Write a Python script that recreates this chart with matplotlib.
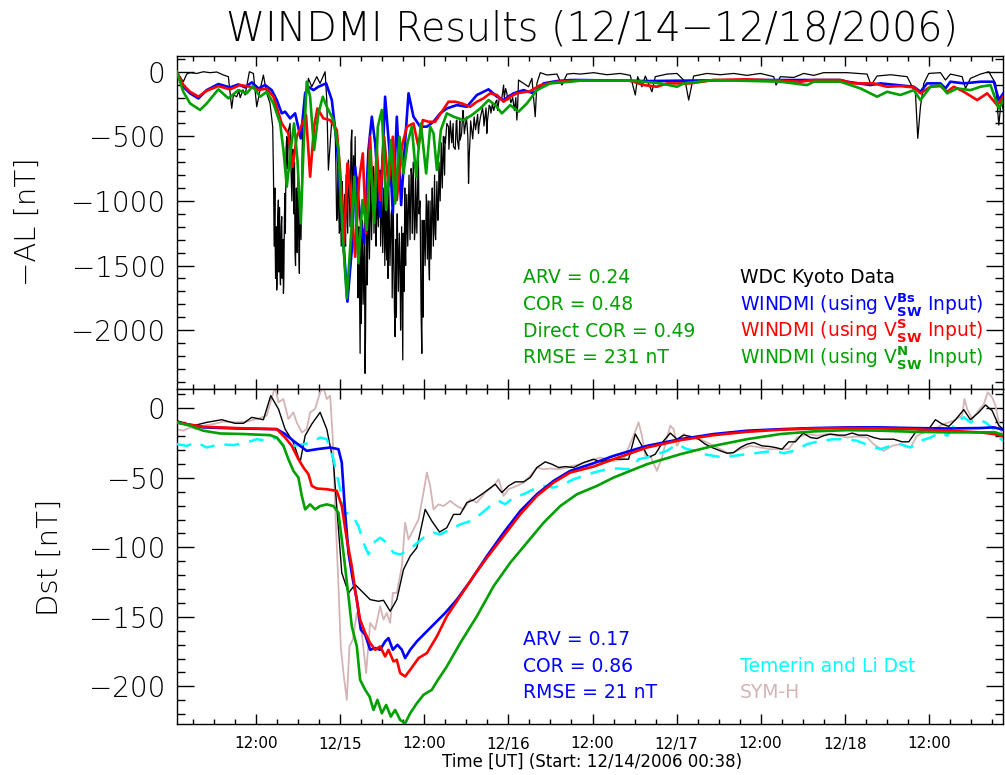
import matplotlib
matplotlib.use("Agg")
import matplotlib.pyplot as plt
from matplotlib.ticker import MultipleLocator, FixedLocator, FixedFormatter

plt.rcParams['font.family'] = ['DejaVu Sans']
plt.rcParams['mathtext.fontset'] = 'dejavusans'

# ---------------- data (hours since 12/14/2006 00:00, nT) ----------------
x_start = 0.633   # 12/14 00:38
x_end = 118.65

xtick_hours = [12, 24, 36, 48, 60, 72, 84, 96, 108]
xtick_labels = ['12:00', '12/15', '12:00', '12/16', '12:00', '12/17', '12:00', '12/18', '12:00']

al_kyoto = [
    (0.63, 0), (1.11, -38), (1.58, -77), (2.06, -18), (2.54, -7), (3.49, -13), (4.44, 0),
    (5.39, -7), (6.35, -2), (7.30, -25), (8.01, -38), (8.49, -283), (8.73, -180), (9.20, -193),
    (9.92, -167), (10.4, -180), (10.8, -60), (11.01, 0), (11.58, -13), (12.06, -271), (12.53, -142),
    (13.01, -26), (13.49, -167), (13.96, -245), (14.34, -425), (14.68, -1251), (14.91, -1690),
    (15.15, -993), (15.39, -1561), (15.63, -1122), (15.87, -1715), (16.10, -941), (16.34, -503),
    (16.82, -400), (17.30, -787), (17.53, -1406), (17.77, -1148), (18.15, -1561), (18.49, -890),
    (18.96, -271), (19.44, -51), (19.91, -116), (20.63, -38), (21.10, -90), (21.82, 0),
    (22.06, -219), (22.29, -761), (22.77, -374), (23.25, -425), (23.58, -1122), (23.96, -1200),
    (24.20, -890), (24.68, -1303), (25.15, -683), (25.63, -451), (26.11, -503), (26.34, -812),
    (26.58, -1457), (26.82, -2180), (27.06, -1354), (27.53, -2335), (27.77, -1200), (28.25, -993),
    (28.72, -735), (29.20, -1096), (29.68, -761), (30.15, -1070), (30.63, -1457), (30.87, -812),
    (31.34, -1070), (31.82, -2051), (32.06, -1251), (32.53, -1561), (32.91, -2231), (33.25, -1354),
    (33.72, -1045), (34.20, -812), (34.68, -1200), (35.15, -683), (35.63, -2180), (35.87, -1251),
    (36.34, -1045), (36.72, -1612), (37.06, -1019), (37.53, -1251), (38.01, -1045), (38.49, -761),
    (38.96, -503), (39.44, -425), (40.15, -580), (40.63, -374), (41.10, -529), (41.58, -348),
    (42.30, -864), (42.53, -503), (43.01, -425), (43.72, -477), (44.44, -348), (44.91, -477),
    (45.39, -271), (46.34, -219), (47.30, -103), (47.77, -167), (48.49, -219), (49.20, -374),
    (49.44, -64), (50.16, -90), (50.87, -116), (51.35, -51), (51.82, -348), (52.06, -90),
    (52.54, -7), (53.49, -25), (54.92, -18), (55.63, -103), (56.35, -18), (57.30, -13),
    (58.25, -18), (60.15, -7), (62.06, -23), (63.96, -13), (65.39, -28), (66.11, -180),
    (66.44, -38), (67.06, -116), (67.54, -33), (68.49, -155), (68.96, -38), (70.63, -18),
    (72.06, -13), (73.25, -77), (73.73, -219), (74.44, -33), (76.35, -13), (78.25, -23),
    (80.15, -13), (82.06, -28), (83.96, -13), (85.87, -38), (86.2, -103), (86.82, -38),
    (88.73, -44), (90.15, -13), (91.58, -28), (93.01, -7), (96.35, -7), (99.2, -18),
    (99.77, -103), (100.63, -33), (102.54, -23), (104.92, -38), (106.11, -167), (106.44, -516),
    (106.82, -271), (107.3, -90), (108.01, -13), (109.68, -7), (110.39, -64), (111.1, -18),
    (112.77, -38), (113.25, -129), (113.96, -51), (115.39, -18), (116.58, 0), (117.54, -90),
    (118.01, -413), (118.35, -219), (118.65, -296),
]

# extra readings of the dense 1-minute fluctuations inside the storm interval
al_kyoto_dense = [
    (9.5, -150), (9.7, -200), (10.1, -140),
    (14.45, -800), (14.55, -1350), (14.65, -900), (14.75, -1600), (14.85, -1200), (14.95, -1650),
    (15.05, -1150), (15.2, -1550), (15.32, -1050), (15.45, -1650), (15.55, -1200), (15.7, -1600),
    (15.8, -1300), (15.92, -1650), (16.02, -1100), (16.15, -1250), (16.25, -600), (16.45, -750),
    (16.6, -450), (16.9, -650), (17.08, -1000), (17.22, -600), (17.35, -1100), (17.45, -700),
    (17.6, -1500), (17.72, -900), (17.85, -1400), (17.95, -800), (18.1, -1450), (18.22, -950),
    (18.38, -1300), (18.55, -600), (18.7, -350),
    (23.35, -700), (23.47, -1150), (23.65, -750), (23.85, -1250), (24.0, -900), (24.12, -1350),
    (24.28, -850), (24.42, -1400), (24.58, -950), (24.75, -1350), (24.82, -800), (25.05, -1250),
    (25.22, -750), (25.38, -1200), (25.52, -550), (25.7, -1100), (25.88, -650), (26.02, -1000),
    (26.15, -700), (26.27, -1300), (26.4, -900), (26.52, -1750), (26.65, -1200), (26.77, -1850),
    (26.9, -1300), (27.0, -1950), (27.12, -1150), (27.25, -1800), (27.42, -1250), (27.6, -2000),
    (27.72, -1000), (27.85, -1650), (27.97, -950), (28.15, -1450), (28.3, -800), (28.45, -1300),
    (28.62, -750), (28.8, -1250), (28.95, -800), (29.1, -1350), (29.25, -850), (29.42, -1200),
    (29.58, -800), (29.75, -1350), (29.9, -850), (30.05, -1400), (30.2, -900), (30.35, -1500),
    (30.45, -850), (30.55, -1350), (30.7, -950), (30.8, -1600), (30.95, -1000), (31.08, -1500),
    (31.25, -1100), (31.4, -1750), (31.55, -1050), (31.72, -1850), (31.9, -1300), (32.0, -1900),
    (32.12, -1100), (32.28, -1700), (32.42, -1250), (32.6, -2000), (32.75, -1200), (32.85, -1850),
    (32.98, -1250), (33.1, -1700), (33.2, -900), (33.32, -1500), (33.48, -950), (33.62, -1350),
    (33.8, -800), (33.95, -1300), (34.1, -750), (34.28, -1250), (34.4, -700), (34.58, -1300),
    (34.75, -800), (34.92, -1250), (35.08, -750), (35.22, -1100), (35.38, -1000), (35.52, -1850),
    (35.7, -1150), (35.8, -1900), (35.95, -1150), (36.1, -1500), (36.28, -950), (36.42, -1450),
    (36.55, -1000), (36.65, -1500), (36.8, -1000), (36.95, -1450), (37.12, -900), (37.28, -1350),
    (37.45, -800), (37.6, -1300), (37.78, -850), (37.92, -1150), (38.08, -700), (38.25, -1000),
    (38.4, -550), (38.55, -900), (38.7, -500), (38.88, -800),
    (39.0, -550), (39.2, -400), (39.5, -600), (39.7, -380), (39.9, -550), (40.1, -400),
    (40.4, -600), (40.55, -380), (40.7, -520), (40.9, -600), (41.05, -380), (41.3, -480),
    (41.5, -300), (41.7, -480), (42.0, -350), (42.2, -500), (42.4, -650), (42.6, -380),
    (42.9, -520), (43.1, -350), (43.3, -450), (43.6, -330), (43.8, -420), (44.0, -350),
    (44.3, -280), (44.5, -420), (44.8, -280), (45.0, -380), (45.25, -260), (45.5, -320),
    (45.7, -250), (45.9, -300), (46.2, -230), (46.45, -300), (46.7, -200), (47.0, -220),
    (47.2, -150), (47.4, -200), (47.6, -130), (47.9, -220), (48.1, -180), (48.35, -240),
    (48.6, -200), (48.85, -300), (49.05, -200), (49.3, -280),
]

al_bs = [
    (0.63, 0), (1.58, -116), (2.54, -167), (3.73, -206), (4.92, -142), (6.58, -95), (8.25, -121),
    (9.44, -98), (10.39, -121), (11.35, -82), (12.3, -129), (13.25, -103), (14.2, -142),
    (14.92, -219), (15.63, -322), (16.11, -309), (16.82, -361), (17.54, -322), (18.35, -516),
    (18.97, -167), (19.44, -116), (20.16, -142), (20.87, -116), (21.97, -90), (22.78, -219),
    (23.49, -554), (24.2, -1122), (25.01, -1780), (25.63, -1380), (26.11, -735), (26.82, -1122),
    (27.39, -1328), (28.01, -606), (28.49, -348), (28.97, -554), (29.68, -1122), (30.39, -193),
    (31.11, -683), (31.49, -1096), (32.06, -348), (32.68, -1032), (33.16, -606), (33.73, -167),
    (34.44, -348), (35.39, -425), (36.35, -425), (37.3, -387), (38.25, -322), (39.2, -284),
    (40.63, -258), (42.06, -271), (43.49, -180), (45.16, -136), (46.35, -193), (47.3, -219),
    (48.73, -167), (50.16, -142), (51.59, -167), (53.01, -90), (54.92, -72), (56.82, -64),
    (58.25, -64), (67.77, -72), (72.54, -69), (82.06, -64), (95.39, -64), (96.35, -77),
    (99.68, -103), (101.11, -90), (103.49, -103), (105.87, -116), (106.82, -155), (107.77, -90),
    (109.68, -90), (110.39, -129), (111.1, -77), (113.01, -90), (115.39, -77), (117.3, -77),
    (118.01, -219), (118.65, -167),
]

al_s = [
    (0.63, 0), (1.58, -103), (2.54, -155), (3.73, -193), (4.92, -147), (6.58, -111), (8.25, -136),
    (9.68, -103), (11.1, -116), (12.3, -142), (13.49, -129), (14.44, -193), (15.63, -400),
    (16.58, -477), (17.2, -735), (17.77, -503), (18.49, -412), (19.1, -335), (19.68, -812),
    (20.25, -425), (20.72, -284), (21.58, -361), (22.53, -374), (23.49, -451), (23.96, -761),
    (24.53, -1328), (25.01, -709), (25.53, -993), (26.11, -1432), (26.68, -838), (27.2, -632),
    (27.68, -1251), (28.25, -503), (28.72, -1122), (29.2, -600), (29.68, -993), (30.25, -503),
    (30.87, -890), (31.49, -503), (32.06, -993), (32.77, -580), (33.49, -425), (34.44, -400),
    (35.15, -580), (35.77, -374), (36.58, -387), (37.53, -387), (38.49, -309), (39.44, -232),
    (40.39, -232), (41.34, -245), (42.53, -271), (43.49, -232), (44.44, -206), (45.39, -167),
    (46.34, -180), (47.3, -232), (48.25, -193), (49.2, -167), (51.1, -150), (52.5, -105),
    (54.9, -78), (57.0, -70), (58.25, -69), (65.39, -69), (67.3, -103), (69.2, -116),
    (70.63, -90), (73.96, -90), (77.3, -64), (82.06, -59), (86.82, -69), (89.68, -77),
    (91.58, -64), (95.39, -64), (97.3, -90), (100.15, -90), (102.06, -116), (103.96, -111),
    (105.87, -121), (106.82, -167), (108.25, -116), (109.68, -111), (110.63, -155), (111.58, -116),
    (113.01, -155), (114.92, -219), (116.35, -167), (117.77, -258), (118.65, -193),
]

al_n = [
    (0.63, 0), (1.58, -155), (2.54, -245), (3.97, -296), (4.92, -245), (6.58, -136), (8.01, -206),
    (9.44, -142), (10.63, -167), (11.49, -111), (12.54, -193), (13.49, -155), (14.44, -245),
    (15.4, -400), (15.87, -606), (16.35, -890), (16.92, -606), (17.39, -400), (17.87, -683),
    (18.35, -1174), (18.73, -606), (19.2, -77), (19.68, -193), (20.25, -606), (20.87, -322),
    (21.49, -193), (22.06, -271), (23.01, -374), (23.73, -606), (24.35, -1277), (24.92, -1754),
    (25.54, -1251), (26.01, -812), (26.58, -1483), (27.16, -993), (27.78, -1225), (28.25, -606),
    (28.82, -1174), (29.35, -425), (29.92, -296), (30.54, -1070), (31.2, -529), (31.82, -1019),
    (32.44, -503), (33.01, -787), (33.58, -554), (34.2, -425), (34.82, -812), (35.49, -400),
    (36.25, -787), (36.82, -425), (37.3, -477), (37.78, -761), (38.35, -451), (39.2, -322),
    (40.16, -348), (41.58, -374), (42.78, -335), (43.97, -284), (45.16, -219), (46.11, -258),
    (47.06, -322), (48.25, -258), (49.44, -309), (50.63, -245), (52.06, -142), (53.97, -90),
    (56.82, -77), (58.25, -69), (65.39, -69), (67.3, -77), (69.68, -90), (72.06, -116),
    (73.01, -90), (77.3, -64), (86.82, -77), (90.63, -103), (91.58, -77), (95.39, -77),
    (98.25, -129), (100.63, -193), (102.06, -155), (103.96, -180), (105.87, -142), (106.82, -219),
    (108.25, -116), (109.68, -103), (110.63, -167), (112.06, -129), (113.96, -142), (115.39, -116),
    (116.82, -103), (118.01, -284), (118.65, -219),
]

dst_kyoto = [
    (0.63, -8.9), (3.01, -12.5), (4.92, -10.1), (7.06, -8.2), (8.97, -10.8), (10.16, -10.8),
    (11.35, -6.5), (13.01, -8.2), (14.06, 9.1), (15.16, -0.5), (16.11, -15.0), (17.3, -24.6),
    (18.25, -39.0), (18.97, -19.7), (19.92, -11.3), (21.11, -2.9), (22.06, -15.0), (23.01, -39.0),
    (24.2, -118.3), (25.16, -132.8), (26.11, -126.8), (27.06, -131.6), (28.25, -137.6),
    (29.44, -138.8), (30.16, -138.1), (31.11, -146.0), (32.06, -137.6), (33.01, -116.0),
    (33.97, -106.3), (34.92, -100.3), (36.11, -72.7), (37.06, -81.1), (38.16, -89.0),
    (39.2, -85.9), (40.16, -76.3), (41.11, -76.3), (42.06, -67.8), (43.01, -65.9), (44.2, -61.8),
    (45.16, -58.2), (46.11, -54.6), (47.06, -60.6), (48.01, -55.8), (48.97, -52.9), (50.16, -52.9),
    (51.11, -49.8), (52.06, -42.6), (53.25, -38.5), (54.2, -40.2), (55.16, -42.6), (56.11, -41.9),
    (57.3, -42.6), (58.73, -39.0), (60.15, -36.6), (61.11, -38.5), (63.01, -36.6), (65.15, -36.6),
    (66.11, -18.5), (67.06, -27.0), (68.01, -35.4), (68.96, -33.0), (70.15, -23.4), (71.11, -17.8),
    (72.06, -22.2), (73.01, -19.3), (73.96, -20.2), (75.15, -22.2), (76.11, -25.8), (77.06, -28.2),
    (78.25, -30.6), (79.2, -32.3), (80.15, -31.8), (81.11, -28.2), (82.06, -25.8), (83.01, -24.6),
    (84.2, -27.0), (85.15, -27.4), (86.11, -28.2), (87.06, -29.4), (88.01, -24.1), (88.96, -24.1),
    (90.06, -17.8), (91.11, -21.0), (92.06, -21.7), (93.01, -19.7), (93.96, -18.5), (95.15, -19.3),
    (96.11, -19.3), (97.06, -17.8), (98.01, -19.3), (99.2, -19.3), (100.15, -21.0), (101.11, -22.2),
    (102.06, -22.2), (103.01, -22.2), (104.2, -24.1), (105.15, -24.1), (106.11, -17.3),
    (107.06, -15.4), (108.01, -14.9), (108.96, -8.2), (109.92, -11.3), (110.87, -13.0),
    (111.82, -8.2), (113.01, -1.0), (113.96, -8.2), (115.15, -2.9), (116.11, 2.4), (117.06, -1.7),
    (118.01, -12.5), (118.65, -14.9),
]

symh = [
    (0.63, -15.0), (1.58, -16.1), (2.54, -13.7), (3.49, -15.0), (4.44, -12.5), (5.87, -11.3),
    (7.3, -9.6), (9.2, -10.1), (10.63, -9.6), (12.06, -7.7), (13.49, -5.3), (14.2, 7.9),
    (14.68, 15.1), (15.16, 4.3), (15.87, 6.7), (16.58, -7.7), (17.3, -2.9), (17.77, -10.1),
    (18.49, -17.3), (19.2, -15.0), (19.68, -2.9), (20.39, -0.5), (21.11, 11.5), (21.58, 15.1),
    (22.06, 6.7), (22.54, 9.1), (22.92, -22.2), (23.25, -70.3), (23.73, -128.0), (24.06, -171.3),
    (24.44, -190.5), (24.92, -209.7), (25.3, -171.3), (25.78, -166.5), (26.35, -147.2),
    (27.06, -161.6), (27.68, -190.5), (28.25, -154.4), (28.97, -159.2), (29.68, -142.4),
    (30.16, -152.0), (30.63, -147.2), (31.11, -154.4), (31.49, -132.8), (32.06, -132.8),
    (32.78, -113.5), (33.25, -82.3), (33.73, -94.3), (34.44, -87.1), (35.16, -79.9),
    (35.87, -60.6), (36.35, -46.2), (36.82, -55.8), (37.3, -72.7), (38.01, -69.1), (38.73, -70.3),
    (39.68, -66.6), (40.63, -70.3), (41.58, -72.7), (42.54, -65.4), (43.49, -67.8), (44.68, -60.6),
    (45.87, -55.8), (46.59, -51.0), (47.3, -63.0), (48.01, -58.2), (49.2, -55.8), (50.16, -53.4),
    (51.11, -48.6), (52.06, -42.6), (53.01, -43.8), (53.97, -43.3), (54.92, -43.8), (55.87, -43.3),
    (56.82, -41.9), (58.25, -40.2), (59.68, -37.8), (61.11, -35.4), (63.01, -37.8), (64.44, -36.6),
    (65.87, -19.7), (66.58, -10.1), (67.06, -19.7), (67.54, -34.2), (68.25, -34.2), (69.2, -45.0),
    (69.92, -35.4), (70.63, -21.0), (71.11, -12.5), (71.58, -15.0), (72.06, -27.0), (73.01, -18.5),
    (73.73, -21.0), (74.68, -21.0), (75.87, -23.4), (77.3, -27.0), (78.73, -30.6), (79.68, -33.0),
    (81.11, -29.4), (82.54, -27.0), (83.96, -28.2), (85.39, -29.4), (86.82, -29.4), (88.01, -29.4),
    (89.2, -21.0), (90.63, -18.5), (92.06, -19.7), (93.49, -18.5), (94.92, -19.7), (96.35, -21.0),
    (97.77, -20.2), (99.2, -21.0), (100.15, -25.8), (101.58, -30.6), (102.77, -27.0),
    (103.96, -25.8), (105.39, -28.2), (106.35, -19.7), (107.3, -17.3), (108.73, -15.0),
    (110.15, -11.3), (111.58, -8.9), (112.77, -5.3), (113.1, 6.7), (113.49, -0.5), (114.2, -7.7),
    (114.92, -2.9), (115.87, 3.1), (116.44, 11.5), (117.06, 7.9), (117.54, 1.9), (118.01, -10.1),
    (118.65, -22.2),
]

dst_temerin_li = [
    (0.63, -25.8), (2.06, -27.0), (3.49, -24.6), (4.92, -28.2), (6.82, -25.8), (8.73, -26.5),
    (10.63, -24.6), (12.06, -22.2), (13.49, -23.4), (14.92, -21.0), (16.11, -28.2), (17.3, -27.0),
    (18.73, -25.8), (19.92, -24.6), (21.11, -21.0), (22.06, -22.2), (23.01, -36.6), (23.97, -58.2),
    (24.68, -75.1), (25.63, -76.3), (26.58, -84.7), (27.3, -96.7), (28.01, -105.1), (28.73, -96.7),
    (29.68, -93.1), (30.63, -96.7), (31.58, -103.9), (32.54, -105.1), (33.49, -102.7),
    (34.44, -99.1), (35.87, -93.1), (37.3, -89.5), (38.25, -90.7), (39.68, -87.1), (41.11, -83.5),
    (42.54, -81.1), (43.97, -76.3), (45.39, -70.3), (46.59, -66.6), (47.54, -69.0), (48.73, -64.2),
    (50.16, -61.8), (51.59, -58.2), (53.01, -55.8), (54.44, -57.0), (55.87, -54.6), (57.3, -51.0),
    (58.73, -48.6), (60.15, -46.2), (62.06, -43.8), (63.49, -43.3), (65.39, -43.8), (66.58, -36.6),
    (67.77, -35.4), (69.2, -33.0), (70.63, -30.6), (72.06, -25.8), (73.49, -29.4), (74.92, -30.6),
    (75.87, -33.0), (77.3, -34.2), (78.73, -35.4), (80.15, -34.2), (82.06, -33.0), (83.96, -31.8),
    (85.87, -30.6), (87.3, -32.3), (88.73, -30.6), (90.63, -25.8), (92.54, -23.4), (94.44, -22.2),
    (96.35, -22.2), (97.77, -23.4), (99.68, -27.0), (101.11, -29.4), (102.54, -27.0),
    (103.96, -25.8), (105.39, -28.2), (106.82, -23.4), (108.25, -21.0), (109.68, -17.3),
    (110.63, -19.7), (112.06, -8.9), (113.01, -6.5), (113.96, -10.1), (114.92, -7.7),
    (116.11, -10.1), (117.3, -15.0), (118.01, -21.0), (118.65, -23.4),
]

dst_bs = [
    (0.63, -10.1), (4.44, -13.7), (9.2, -14.5), (14.92, -15.0), (16.11, -18.5), (17.3, -23.4),
    (18.25, -27.0), (19.2, -30.6), (20.63, -29.4), (22.54, -28.2), (23.73, -29.4), (24.2, -39.0),
    (24.68, -75.1), (25.16, -104.0), (25.78, -123.2), (26.35, -137.6), (26.92, -159.2),
    (27.54, -162.8), (28.25, -173.7), (28.97, -172.5), (29.68, -173.7), (30.39, -167.7),
    (30.87, -165.3), (31.49, -173.7), (32.16, -170.1), (32.78, -173.7), (33.25, -179.7),
    (33.97, -173.7), (34.92, -167.7), (36.35, -160.4), (37.78, -153.2), (38.97, -147.2),
    (40.63, -137.6), (42.54, -124.4), (44.92, -106.3), (47.3, -89.5), (49.68, -73.9),
    (52.06, -61.8), (54.44, -52.2), (56.82, -45.0), (60.15, -39.5), (63.01, -34.2), (67.77, -27.0),
    (72.54, -22.2), (77.3, -18.5), (82.06, -16.1), (86.82, -15.0), (91.58, -14.2), (96.35, -13.7),
    (101.11, -13.7), (105.87, -14.2), (110.63, -14.5), (115.39, -14.2), (117.3, -13.7),
    (118.65, -15.4),
]

dst_s = [
    (0.63, -10.1), (4.44, -13.3), (9.2, -14.2), (14.92, -15.0), (16.11, -21.0), (17.06, -27.0),
    (18.01, -36.6), (18.73, -42.6), (19.44, -47.4), (19.92, -55.8), (20.63, -57.7), (22.06, -58.2),
    (23.49, -59.4), (24.2, -70.3), (24.92, -94.3), (25.63, -113.5), (26.25, -135.2), (26.82, -152.0),
    (27.54, -161.6), (28.25, -168.9), (28.97, -173.7), (29.68, -171.3), (30.39, -178.5),
    (30.87, -173.7), (31.58, -182.1), (32.06, -180.9), (32.54, -190.5), (33.25, -192.9),
    (33.97, -188.1), (35.16, -179.7), (36.35, -176.1), (37.78, -164.1), (39.2, -149.6),
    (41.11, -135.2), (43.01, -120.8), (44.92, -107.5), (47.3, -91.9), (49.68, -76.3), (52.06, -63.0),
    (54.44, -53.4), (56.82, -46.2), (60.15, -41.9), (63.01, -36.6), (67.77, -28.2), (72.54, -22.9),
    (77.3, -19.3), (82.06, -16.9), (86.82, -15.4), (91.58, -14.5), (96.35, -14.2), (101.11, -14.5),
    (105.87, -15.0), (110.63, -16.1), (115.39, -17.3), (117.3, -18.5), (118.65, -20.2),
]

dst_n = [
    (0.63, -10.1), (2.54, -12.5), (4.44, -16.1), (6.82, -18.1), (10.16, -18.5), (13.96, -19.3),
    (14.92, -21.0), (15.87, -27.0), (16.58, -36.6), (17.3, -45.0), (18.01, -49.8), (18.49, -63.0),
    (18.97, -72.7), (19.68, -69.1), (20.39, -72.7), (21.11, -70.3), (22.06, -69.1), (23.01, -70.3),
    (23.73, -75.1), (24.44, -104.0), (25.16, -135.2), (25.63, -156.8), (26.35, -171.3),
    (26.82, -195.3), (27.54, -202.5), (28.16, -207.3), (28.73, -217.0), (29.3, -209.7),
    (29.92, -219.4), (30.54, -213.4), (31.2, -221.8), (31.82, -217.0), (32.54, -224.2),
    (33.25, -226.6), (33.97, -219.4), (34.92, -212.2), (35.87, -206.1), (37.06, -202.5),
    (37.78, -196.5), (39.2, -185.7), (41.11, -168.9), (43.49, -149.6), (45.87, -128.0),
    (48.25, -111.1), (50.63, -96.7), (53.01, -82.3), (55.39, -70.3), (57.78, -61.8), (60.63, -55.8),
    (63.01, -49.8), (65.39, -45.0), (67.77, -40.2), (72.54, -33.0), (77.3, -27.0), (82.06, -22.2),
    (86.82, -18.5), (91.58, -16.6), (96.35, -15.7), (101.11, -16.1), (105.87, -16.9),
    (110.63, -17.3), (115.39, -17.3), (117.54, -17.3), (118.65, -19.3),
]

al_stats = ['ARV = 0.24', 'COR = 0.48', 'Direct COR = 0.49', 'RMSE = 231 nT']
dst_stats = ['ARV = 0.17', 'COR = 0.86', 'RMSE = 21 nT']
al_legend = ['WDC Kyoto Data',
             r'WINDMI (using V$_{\mathbf{SW}}^{\mathbf{Bs}}$ Input)',
             r'WINDMI (using V$_{\mathbf{SW}}^{\mathbf{S}}$ Input)',
             r'WINDMI (using V$_{\mathbf{SW}}^{\mathbf{N}}$ Input)']
dst_legend = ['Temerin and Li Dst', 'SYM-H']

# ---------------- style ----------------
C_BLUE = '#0000ff'
C_RED = '#ff0000'
C_GREEN = '#00a000'
C_CYAN = '#00ffff'
C_SYM = '#d4b4b4'
THIN = 200  # light weight where the font has one

W, H = 1005, 775
fig = plt.figure(figsize=(W / 100, H / 100), dpi=100)

L, R = 176.7, 1003.3
ax1 = fig.add_axes([L / W, 1 - 389 / H, (R - L) / W, (389 - 56) / H])
ax2 = fig.add_axes([L / W, 1 - 724 / H, (R - L) / W, (724 - 389) / H])


def xy(pairs):
    pairs = sorted(pairs)
    return [p[0] for p in pairs], [p[1] for p in pairs]


# top panel
ax1.plot(*xy(al_kyoto + al_kyoto_dense), color='black', lw=0.9, zorder=2)
ax1.plot(*xy(al_bs), color=C_BLUE, lw=1.9, zorder=3)
ax1.plot(*xy(al_s), color=C_RED, lw=1.9, zorder=4)
ax1.plot(*xy(al_n), color=C_GREEN, lw=1.9, zorder=5)
ax1.set_ylim(-2456, 122)

# bottom panel
ax2.plot(*xy(symh), color=C_SYM, lw=1.3, zorder=2)
ax2.plot(*xy(dst_kyoto), color='black', lw=1.0, zorder=3)
ax2.plot(*xy(dst_temerin_li), color=C_CYAN, lw=1.8, ls=(0, (6, 4)), zorder=4)
ax2.plot(*xy(dst_bs), color=C_BLUE, lw=1.9, zorder=5)
ax2.plot(*xy(dst_s), color=C_RED, lw=1.9, zorder=6)
ax2.plot(*xy(dst_n), color=C_GREEN, lw=1.9, zorder=7)
ax2.set_ylim(-227.1, 13.9)

for ax in (ax1, ax2):
    ax.set_xlim(x_start, x_end)
    ax.xaxis.set_major_locator(FixedLocator(xtick_hours))
    ax.xaxis.set_minor_locator(MultipleLocator(3))
    ax.tick_params(which='both', direction='in', top=True, right=True)
    ax.tick_params(axis='y', which='major', length=12, width=1.0)
    ax.tick_params(axis='y', which='minor', length=6, width=1.0)
    ax.tick_params(axis='x', which='major', length=7, width=1.0)
    ax.tick_params(axis='x', which='minor', length=3.5, width=1.0)
    ax.tick_params(axis='y', labelsize=20, pad=8)
    for s in ax.spines.values():
        s.set_linewidth(1.0)

ax1.yaxis.set_major_locator(MultipleLocator(500))
ax1.yaxis.set_minor_locator(MultipleLocator(100))
ax1.tick_params(axis='x', labelbottom=False)

ax2.yaxis.set_major_locator(MultipleLocator(50))
ax2.yaxis.set_minor_locator(MultipleLocator(10))
ax2.xaxis.set_major_formatter(FixedFormatter(xtick_labels))
ax2.tick_params(axis='x', labelsize=11, pad=9)

for ax in (ax1, ax2):
    for lab in ax.get_yticklabels():
        lab.set_fontweight(THIN)

# labels
fig.text(592 / W, 1 - 29 / H, 'WINDMI Results (12/14\u221212/18/2006)', ha='center', va='center',
         fontsize=28.5, fontweight=THIN)
fig.text(28 / W, 1 - 222 / H, '\u2212AL [nT]', rotation=90, ha='center', va='center',
         fontsize=21, fontweight=THIN)
fig.text(50 / W, 1 - 557 / H, 'Dst [nT]', rotation=90, ha='center', va='center',
         fontsize=21, fontweight=THIN)
fig.text(592 / W, 1 - 762 / H, 'Time [UT] (Start: 12/14/2006 00:38)', ha='center', va='center',
         fontsize=12)

FS = 13.5
for i, s in enumerate(al_stats):
    fig.text(522.7 / W, 1 - (283.3 + 26.7 * i) / H, s, color=C_GREEN, fontsize=FS, va='baseline')
for s, c, yb in zip(al_legend, ['black', C_BLUE, C_RED, C_GREEN], [283.3, 310, 336.7, 363.4]):
    fig.text(740 / W, 1 - yb / H, s, color=c, fontsize=FS, va='baseline')

for i, s in enumerate(dst_stats):
    fig.text(522.7 / W, 1 - (645 + 26.5 * i) / H, s, color=C_BLUE, fontsize=FS, va='baseline')
for s, c, yb in zip(dst_legend, [C_CYAN, C_SYM], [671.7, 698]):
    fig.text(740 / W, 1 - yb / H, s, color=c, fontsize=FS, va='baseline')

fig.savefig('out.png', dpi=100)
